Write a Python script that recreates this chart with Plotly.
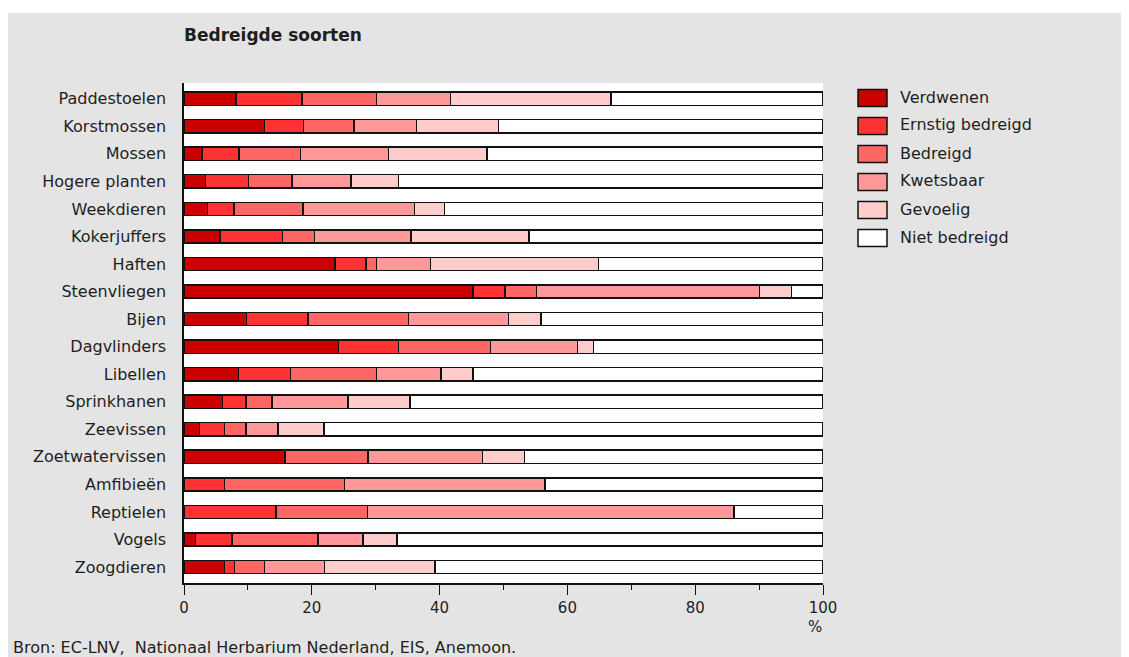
import plotly.graph_objects as go

categories = ["Paddestoelen", "Korstmossen", "Mossen", "Hogere planten", "Weekdieren",
              "Kokerjuffers", "Haften", "Steenvliegen", "Bijen", "Dagvlinders", "Libellen",
              "Sprinkhanen", "Zeevissen", "Zoetwatervissen", "Amfibieën", "Reptielen",
              "Vogels", "Zoogdieren"]

series_names = ["Verdwenen", "Ernstig bedreigd", "Bedreigd", "Kwetsbaar", "Gevoelig", "Niet bedreigd"]
series_colors = ["#cc0000", "#ff3333", "#ff6666", "#ff9999", "#ffcccc", "#ffffff"]

verdwenen = [8.1, 12.6, 2.8, 3.4, 3.7, 5.6, 23.6, 45.2, 9.8, 24.2, 8.5, 6.0, 2.4, 15.8, 0, 0, 1.8, 6.3]
ernstig = [10.4, 6.1, 5.8, 6.7, 4.1, 9.8, 4.9, 5.0, 9.6, 9.4, 8.2, 3.7, 3.9, 0, 6.3, 14.4, 5.7, 1.6]
bedreigd = [11.6, 7.9, 9.6, 6.8, 10.8, 5.0, 1.6, 5.0, 15.7, 14.4, 13.4, 4.1, 3.4, 13.0, 18.8, 14.3, 13.5, 4.7]
kwetsbaar = [11.6, 9.8, 13.8, 9.2, 17.5, 15.1, 8.5, 34.9, 15.7, 13.6, 10.1, 11.9, 5.0, 17.9, 31.4, 57.4, 7.0, 9.4]
gevoelig = [25.1, 12.8, 15.4, 7.5, 4.7, 18.5, 26.3, 5.0, 5.1, 2.5, 5.0, 9.7, 7.2, 6.6, 0, 0, 5.3, 17.3]
niet = [33.2, 50.8, 52.6, 66.4, 59.2, 46.0, 35.1, 4.9, 44.1, 35.9, 54.8, 64.6, 78.1, 46.7, 43.5, 13.9, 66.7, 60.7]

series_values = [verdwenen, ernstig, bedreigd, kwetsbaar, gevoelig, niet]

x_ticks = [0, 20, 40, 60, 80, 100]

FONT = "DejaVu Sans, Verdana, sans-serif"
TXT = "#1e1e1e"

W, H = 1129, 657
OFF = 8  # page offset of the figure (body margin)
# plot area in page pixels
PL, PR, PT, PB = 184, 823, 83, 583


def px_x(px):
    return (px - PL) / (PR - PL)


def px_y(py):
    return (PB - py) / (PB - PT)


fig = go.Figure()
for name, color, vals in zip(series_names, series_colors, series_values):
    fig.add_trace(go.Bar(
        y=categories, x=vals, name=name, orientation="h",
        marker=dict(color=color, line=dict(color="#111111", width=1.5)),
        showlegend=False,
    ))

shapes = []
annotations = []

# thin white strip at the top of the original image
shapes.append(dict(type="rect", xref="paper", yref="paper", x0=px_x(0), x1=px_x(W + 20),
                   y0=px_y(13), y1=px_y(0), fillcolor="white", line_width=0, layer="below"))

# legend
for i, (name, color) in enumerate(zip(series_names, series_colors)):
    cy = 98 + i * 28
    shapes.append(dict(type="rect", xref="paper", yref="paper",
                       x0=px_x(858), x1=px_x(887), y0=px_y(cy + 8.5), y1=px_y(cy - 8.5),
                       fillcolor=color, line=dict(color="#111111", width=1.5)))
    annotations.append(dict(xref="paper", yref="paper", x=px_x(898), y=px_y(cy - 1),
                            xanchor="left", yanchor="middle", showarrow=False, text=name,
                            font=dict(family=FONT, size=16, color=TXT)))

annotations.append(dict(xref="paper", yref="paper", x=px_x(182), y=px_y(35),
                        xanchor="left", yanchor="middle", showarrow=False,
                        text="<b>Bedreigde soorten</b>",
                        font=dict(family=FONT, size=17, color=TXT)))
annotations.append(dict(xref="paper", yref="paper", x=px_x(815), y=px_y(627),
                        xanchor="center", yanchor="middle", showarrow=False, text="%",
                        font=dict(family=FONT, size=15, color=TXT)))
annotations.append(dict(xref="paper", yref="paper", x=px_x(11), y=px_y(647),
                        xanchor="left", yanchor="middle", showarrow=False,
                        text="Bron: EC-LNV,  Nationaal Herbarium Nederland, EIS, Anemoon.",
                        font=dict(family=FONT, size=16, color=TXT)))

fig.update_layout(
    width=W, height=H,
    barmode="stack", bargap=0.52,
    paper_bgcolor="#e4e4e4", plot_bgcolor="#ffffff",
    margin=dict(l=PL - OFF, r=W - (PR - OFF), t=PT - OFF, b=H - (PB - OFF), pad=0),
    font=dict(family=FONT, size=16, color=TXT),
    shapes=shapes, annotations=annotations,
    showlegend=False,
)
fig.update_xaxes(range=[0, 100], tickvals=x_ticks, ticktext=[str(v) for v in x_ticks],
                 ticks="outside", ticklen=10, tickwidth=1.2, tickcolor="#111111",
                 minor=dict(dtick=10, ticks="outside", ticklen=5, tickwidth=1.2, tickcolor="#111111"),
                 showline=True, linecolor="#111111", linewidth=1.5, showgrid=False, zeroline=False,
                 tickfont=dict(family=FONT, size=15, color=TXT))
fig.update_yaxes(type="category", categoryorder="array", categoryarray=categories,
                 range=[17.58, -0.57], showline=True, linecolor="#111111", linewidth=1.5,
                 ticks="", showgrid=False, zeroline=False, ticklabelstandoff=13,
                 tickfont=dict(family=FONT, size=16, color=TXT))

fig.write_html("out.html",
               post_script="document.documentElement.style.overflow='hidden';"
                           "document.body.style.overflow='hidden';")
